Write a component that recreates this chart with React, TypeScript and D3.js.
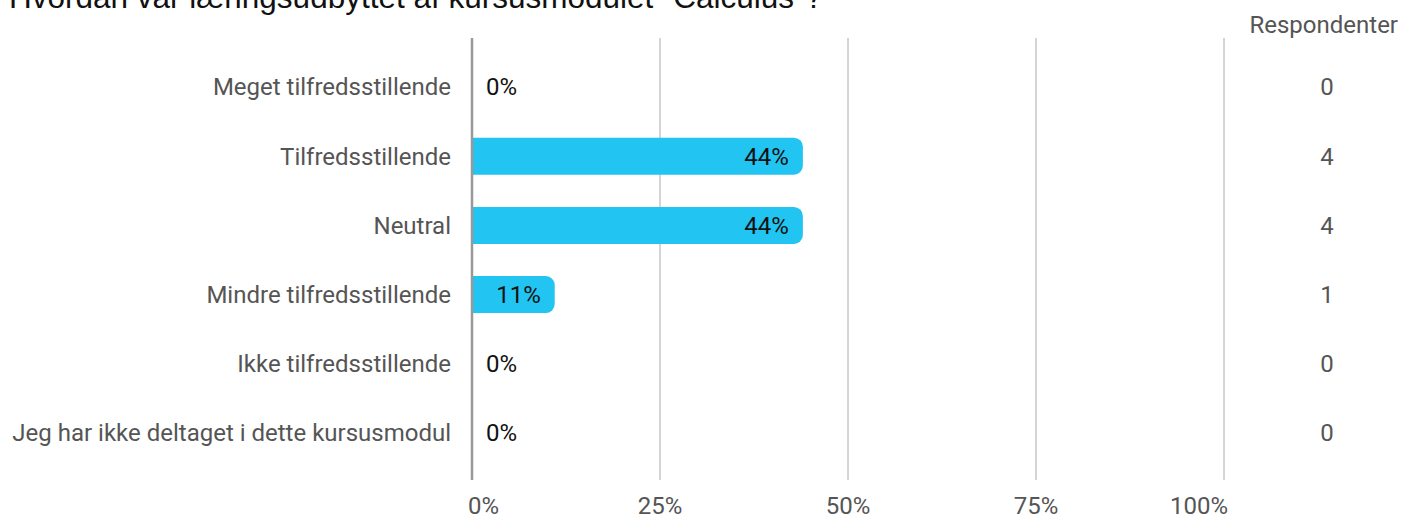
import React from 'react'
import * as d3 from 'd3'

const title = 'Hvordan var læringsudbyttet af kursusmodulet "Calculus"?'
const categories = [
  'Meget tilfredsstillende',
  'Tilfredsstillende',
  'Neutral',
  'Mindre tilfredsstillende',
  'Ikke tilfredsstillende',
  'Jeg har ikke deltaget i dette kursusmodul',
]
const percentages = [0, 44, 44, 11, 0, 0]
const respondents = [0, 4, 4, 1, 0, 0]
const tickValues = [0, 25, 50, 75, 100]

const width = 1404
const height = 516
const barColor = '#22c4f2'

// right-rounded bar path
const barPath = (x0: number, x1: number, y: number, h: number, r: number) => {
  const rr = Math.min(r, (x1 - x0) / 2, h / 2)
  return `M${x0},${y}H${x1 - rr}A${rr},${rr} 0 0 1 ${x1},${y + rr}V${y + h - rr}A${rr},${rr} 0 0 1 ${x1 - rr},${y + h}H${x0}Z`
}

export default function App() {
  const x = d3.scaleLinear().domain([0, 100]).range([472, 1224])
  const y = d3
    .scaleBand<string>()
    .domain(categories)
    .range([52.4, 467.6])
    .paddingInner(0.465)
    .paddingOuter(0.2325)
  const fs = 24

  return (
    <div style={{ position: 'absolute', left: 0, top: 0 }}>
      <svg width={width} height={height} style={{ display: 'block', fontFamily: 'Roboto, sans-serif' }}>
        <text x={9} y={8} fontFamily="'Liberation Sans', Arial, sans-serif" fontSize={31.5} fill="#111">
          {title}
        </text>
        <text x={1398} y={33} textAnchor="end" fontSize={fs} fill="#555">
          Respondenter
        </text>

        {/* gridlines */}
        {tickValues.slice(1).map((t) => (
          <line key={t} x1={x(t)} x2={x(t)} y1={38} y2={480} stroke="#aaa" strokeWidth={1} />
        ))}

        {/* tick labels */}
        {tickValues.map((t, i) => (
          <text
            key={t}
            x={i === 0 ? x(t) - 4 : i === tickValues.length - 1 ? x(t) + 4 : x(t)}
            y={514}
            textAnchor={i === 0 ? 'start' : i === tickValues.length - 1 ? 'end' : 'middle'}
            fontSize={fs}
            fill="#555"
          >
            {t}%
          </text>
        ))}

        {categories.map((c, i) => {
          const v = percentages[i]
          const y0 = y(c) ?? 0
          const cy = y0 + y.bandwidth() / 2
          return (
            <g key={c}>
              <text x={451} y={cy} dy="0.35em" textAnchor="end" fontSize={fs} fill="#555">
                {c}
              </text>
              {v > 0 && (
                <path d={barPath(x(0), x(v), y0, y.bandwidth(), 9)} fill={barColor} />
              )}
              <text
                x={v > 0 ? x(v) - 14 : x(0) + 14}
                y={cy}
                dy="0.35em"
                textAnchor={v > 0 ? 'end' : 'start'}
                fontSize={fs}
                fill="#111"
              >
                {v}%
              </text>
              <text x={1327} y={cy} dy="0.35em" textAnchor="middle" fontSize={fs} fill="#555">
                {respondents[i]}
              </text>
            </g>
          )
        })}

        {/* baseline axis */}
        <line x1={x(0)} x2={x(0)} y1={38} y2={480} stroke="#999" strokeWidth={2.5} />
      </svg>
    </div>
  )
}
